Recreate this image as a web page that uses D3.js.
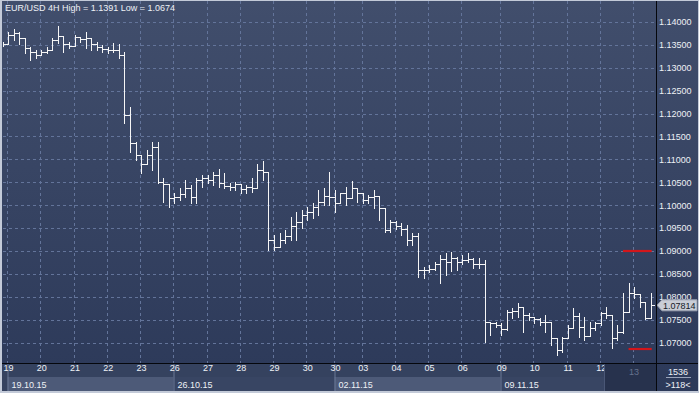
<!DOCTYPE html>
<html>
<head>
<meta charset="utf-8">
<script src="https://cdn.jsdelivr.net/npm/d3@7/dist/d3.min.js"></script>
<style>
  body { margin: 0; background: #c3cad8; }
  svg { display: block; font-family: "Liberation Sans", Arial, sans-serif; }
</style>
</head>
<body>
<div id="chart"></div>
<script>
// day labels and the bar index each day starts at
const dayLabels = ['19', '20', '21', '22', '23', '26', '27', '28', '29', '30', '30', '03', '04', '05', '06', '09', '10', '11', '12', '13'];
const dayStart = [1, 7, 13, 19, 25, 31, 37, 43, 49, 55, 60, 65, 71, 77, 83, 90, 96, 102, 108, 114];
const weekLabels = ['19.10.15', '26.10.15', '02.11.15', '09.11.15'];
const weekStart = [1, 31, 60, 90];
const priceTicks = [1.07, 1.075, 1.08, 1.085, 1.09, 1.095, 1.10, 1.105, 1.11, 1.115, 1.12, 1.125, 1.13, 1.135, 1.14];

// 4H bars EUR/USD
const open = [
  1.1352, 1.1352, 1.1372, 1.1376, 1.1365, 1.1343, 1.1334, 1.1328, 1.1334, 1.1339,
  1.1361, 1.1369, 1.1352, 1.1348, 1.1367, 1.1363, 1.1365, 1.1352, 1.1345, 1.1341,
  1.1339, 1.1339, 1.1328, 1.1197, 1.1136, 1.1110, 1.1090, 1.1110, 1.1127, 1.1051,
  1.1046, 1.1016, 1.1018, 1.1025, 1.1038, 1.1018, 1.1055, 1.1059, 1.1055, 1.1066,
  1.1049, 1.1042, 1.1040, 1.1046, 1.1035, 1.1040, 1.1038, 1.1077, 1.1073, 1.0924,
  1.0909, 1.0924, 1.0933, 1.0955, 1.0963, 1.0979, 1.0985, 1.0996, 1.1007, 1.1020,
  1.1018, 1.1005, 1.1027, 1.1016, 1.1038, 1.1027, 1.1011, 1.1018, 1.1020, 1.0994,
  1.0946, 1.0963, 1.0955, 1.0948, 1.0924, 1.0933, 1.0859, 1.0859, 1.0861, 1.0872,
  1.0883, 1.0876, 1.0885, 1.0876, 1.0880, 1.0883, 1.0872, 1.0872, 1.0745, 1.0743,
  1.0738, 1.0730, 1.0767, 1.0769, 1.0778, 1.0760, 1.0756, 1.0752, 1.0745, 1.0745,
  1.0710, 1.0684, 1.0710, 1.0732, 1.0758, 1.0734, 1.0714, 1.0732, 1.0743, 1.0765,
  1.0760, 1.0710, 1.0723, 1.0767, 1.0808, 1.0806, 1.0789, 1.0754
];
const high = [
  1.1356, 1.1378, 1.1385, 1.1378, 1.1365, 1.1345, 1.1339, 1.1339, 1.1345, 1.1365,
  1.1391, 1.1369, 1.1356, 1.1372, 1.1367, 1.1378, 1.1365, 1.1356, 1.1350, 1.1345,
  1.1354, 1.1352, 1.1334, 1.1214, 1.1138, 1.1110, 1.1121, 1.1138, 1.1138, 1.1059,
  1.1046, 1.1027, 1.1038, 1.1055, 1.1044, 1.1059, 1.1066, 1.1066, 1.1073, 1.1079,
  1.1070, 1.1049, 1.1051, 1.1046, 1.1044, 1.1059, 1.1090, 1.1097, 1.1073, 1.0935,
  1.0939, 1.0946, 1.0974, 1.0985, 1.0990, 1.0996, 1.1005, 1.1033, 1.1038, 1.1073,
  1.1033, 1.1027, 1.1040, 1.1053, 1.1038, 1.1027, 1.1022, 1.1033, 1.1020, 1.0994,
  1.0968, 1.0965, 1.0961, 1.0957, 1.0939, 1.0939, 1.0865, 1.0869, 1.0876, 1.0891,
  1.0896, 1.0898, 1.0887, 1.0891, 1.0896, 1.0885, 1.0885, 1.0880, 1.0745, 1.0745,
  1.0743, 1.0771, 1.0776, 1.0786, 1.0778, 1.0765, 1.0756, 1.0754, 1.0760, 1.0745,
  1.0710, 1.0712, 1.0738, 1.0776, 1.0765, 1.0756, 1.0745, 1.0745, 1.0767, 1.0778,
  1.0760, 1.0738, 1.0808, 1.0830, 1.0821, 1.0806, 1.0789, 1.0808
];
const low = [
  1.1348, 1.1352, 1.1361, 1.1352, 1.1332, 1.1317, 1.1321, 1.1328, 1.1332, 1.1339,
  1.1354, 1.1334, 1.1343, 1.1348, 1.1356, 1.1343, 1.1339, 1.1339, 1.1334, 1.1332,
  1.1334, 1.1321, 1.1180, 1.1116, 1.1099, 1.1070, 1.1090, 1.1077, 1.1049, 1.1007,
  1.0996, 1.1005, 1.1011, 1.1018, 1.1005, 1.1005, 1.1040, 1.1049, 1.1044, 1.1040,
  1.1038, 1.1033, 1.1033, 1.1027, 1.1027, 1.1029, 1.1038, 1.1055, 1.0902, 1.0902,
  1.0909, 1.0917, 1.0924, 1.0924, 1.0950, 1.0968, 1.0972, 1.0979, 1.1000, 1.1000,
  1.0985, 1.1005, 1.1000, 1.1016, 1.1007, 1.1005, 1.1005, 1.0994, 1.0968, 1.0942,
  1.0942, 1.0948, 1.0935, 1.0913, 1.0913, 1.0843, 1.0841, 1.0854, 1.0859, 1.0830,
  1.0848, 1.0856, 1.0859, 1.0872, 1.0876, 1.0863, 1.0863, 1.0701, 1.0717, 1.0734,
  1.0717, 1.0728, 1.0754, 1.0756, 1.0723, 1.0749, 1.0743, 1.0738, 1.0723, 1.0695,
  1.0674, 1.0680, 1.0710, 1.0732, 1.0712, 1.0706, 1.0714, 1.0728, 1.0738, 1.0754,
  1.0688, 1.0706, 1.0721, 1.0767, 1.0797, 1.0778, 1.0752, 1.0754
];
const close = [
  1.1352, 1.1372, 1.1376, 1.1365, 1.1343, 1.1334, 1.1328, 1.1334, 1.1339, 1.1361,
  1.1369, 1.1352, 1.1348, 1.1367, 1.1363, 1.1365, 1.1352, 1.1345, 1.1341, 1.1339,
  1.1339, 1.1328, 1.1197, 1.1136, 1.1110, 1.1090, 1.1110, 1.1127, 1.1051, 1.1046,
  1.1016, 1.1018, 1.1025, 1.1038, 1.1018, 1.1055, 1.1059, 1.1055, 1.1066, 1.1049,
  1.1042, 1.1040, 1.1046, 1.1035, 1.1040, 1.1038, 1.1077, 1.1073, 1.0924, 1.0909,
  1.0924, 1.0933, 1.0955, 1.0963, 1.0979, 1.0985, 1.0996, 1.1007, 1.1020, 1.1018,
  1.1005, 1.1027, 1.1016, 1.1038, 1.1027, 1.1011, 1.1018, 1.1020, 1.0994, 1.0946,
  1.0963, 1.0955, 1.0948, 1.0924, 1.0933, 1.0859, 1.0859, 1.0861, 1.0872, 1.0883,
  1.0876, 1.0885, 1.0876, 1.0880, 1.0883, 1.0872, 1.0872, 1.0745, 1.0743, 1.0738,
  1.0730, 1.0767, 1.0769, 1.0778, 1.0760, 1.0756, 1.0752, 1.0745, 1.0745, 1.0710,
  1.0684, 1.0710, 1.0732, 1.0758, 1.0734, 1.0714, 1.0732, 1.0743, 1.0765, 1.0760,
  1.0710, 1.0723, 1.0767, 1.0808, 1.0806, 1.0789, 1.0754, 1.07814
];
const lastPrice = 1.07814;
// order levels drawn in red near the right edge
const orderLevels = [1.09, 1.0686];
const orderFrom = [112, 113];
const orderTo = [117, 117];
const barCount = '1536';
const visibleBars = '>118<';
const title = 'EUR/USD 4H High = 1.1391 Low = 1.0674';

const W = 699, H = 393;
const plot = { left: 3, right: 656, top: 1, bottom: 363 };

const svg = d3.select('#chart').append('svg').attr('width', W).attr('height', H);
const defs = svg.append('defs');

const bg = defs.append('linearGradient').attr('id', 'bg').attr('x1', 0).attr('y1', 0).attr('x2', 0).attr('y2', 1);
bg.append('stop').attr('offset', '0%').attr('stop-color', '#414e6c');
bg.append('stop').attr('offset', '100%').attr('stop-color', '#2c3959');

defs.append('clipPath').attr('id', 'plotClip').append('rect')
  .attr('x', plot.left).attr('y', plot.top)
  .attr('width', plot.right - plot.left).attr('height', plot.bottom - plot.top);

// frame + background
svg.append('rect').attr('width', W).attr('height', H).attr('fill', '#c3cad8');
svg.append('rect').attr('x', 2).attr('y', 1).attr('width', W - 3).attr('height', H - 3).attr('fill', 'url(#bg)');

const x = d3.scaleLinear().domain([0, open.length - 1]).range([2.56, 650.7]);
const y = d3.scaleLinear().domain([1.07, 1.14]).range([342.6, 22]);
const px = n => Math.round(x(n)) + 0.5;
const py = v => Math.round(y(v)) + 0.5;
const lastDay = dayLabels.length - 1;

// time axis rows
const axisG = svg.append('g');
axisG.append('rect').attr('x', 2).attr('y', plot.bottom).attr('width', plot.right - 2).attr('height', H - 2 - plot.bottom)
  .attr('fill', '#35425f');
weekStart.forEach((s, i) => {
  const x0 = Math.round(x(s)) - 0.5;
  const x1 = i < weekStart.length - 1 ? Math.round(x(weekStart[i + 1])) - 0.5 : plot.right;
  axisG.append('rect').attr('x', x0).attr('y', 377).attr('width', x1 - x0).attr('height', 14)
    .attr('fill', i % 2 === 0 ? '#4d5a78' : '#384563');
  axisG.append('line').attr('x1', x0 + 0.5).attr('x2', x0 + 0.5).attr('y1', 364).attr('y2', 391)
    .attr('stroke', '#6b7896');
  axisG.append('text').attr('x', x0 + 4).attr('y', 388).attr('fill', '#eef1f6')
    .attr('font-size', 9).text(weekLabels[i]);
});

// day labels (the last day is drawn greyed inside the highlight)
const xAxis = d3.axisBottom(x).tickValues(dayStart.slice(0, lastDay)).tickSize(0).tickPadding(0)
  .tickFormat((d, i) => dayLabels[i]);
const xAxisG = axisG.append('g').attr('transform', `translate(0,${plot.bottom + 2})`).call(xAxis);
xAxisG.select('.domain').remove();
xAxisG.selectAll('text').attr('fill', '#eef1f6').attr('font-size', 9).attr('dy', '0.71em')
  .attr('font-family', '"Liberation Sans", Arial, sans-serif');

// last day highlight
axisG.append('rect').attr('x', 604).attr('y', plot.bottom + 1).attr('width', plot.right - 604).attr('height', H - 3 - plot.bottom)
  .attr('fill', '#27324d');
axisG.append('line').attr('x1', 604.5).attr('x2', 604.5).attr('y1', plot.bottom + 1).attr('y2', H - 2).attr('stroke', '#4a5776');
axisG.append('text').attr('x', x(dayStart[lastDay])).attr('y', plot.bottom + 11.5)
  .attr('text-anchor', 'middle').attr('fill', '#66728e').attr('font-size', 9)
  .text(dayLabels[lastDay]);

// grid
const grid = svg.append('g').attr('clip-path', 'url(#plotClip)');
grid.selectAll('.hg').data(priceTicks).join('line').attr('class', 'hg')
  .attr('x1', plot.left).attr('x2', plot.right).attr('y1', d => py(d)).attr('y2', d => py(d))
  .attr('stroke', '#63749a').attr('stroke-dasharray', '3,3');
grid.selectAll('.vg').data(dayStart).join('line').attr('class', 'vg')
  .attr('x1', d => px(d) - 1).attr('x2', d => px(d) - 1).attr('y1', plot.top).attr('y2', plot.bottom)
  .attr('stroke', '#63749a').attr('stroke-dasharray', '3,3');

// OHLC bars
const bars = svg.append('g').attr('clip-path', 'url(#plotClip)')
  .attr('stroke', '#f6f6f6').attr('stroke-width', 1).attr('shape-rendering', 'crispEdges');
const idx = d3.range(open.length);
bars.selectAll('.hl').data(idx).join('line').attr('class', 'hl')
  .attr('x1', px).attr('x2', px)
  .attr('y1', n => Math.round(y(high[n]))).attr('y2', n => Math.round(y(low[n])) + 1);
bars.selectAll('.op').data(idx).join('line').attr('class', 'op')
  .attr('x1', n => px(n) - 3).attr('x2', px)
  .attr('y1', n => py(open[n])).attr('y2', n => py(open[n]));
bars.selectAll('.cl').data(idx).join('line').attr('class', 'cl')
  .attr('x1', px).attr('x2', n => px(n) + 3)
  .attr('y1', n => py(close[n])).attr('y2', n => py(close[n]));

// order levels
svg.append('g').selectAll('line').data(orderLevels).join('line')
  .attr('x1', (d, i) => x(orderFrom[i])).attr('x2', (d, i) => x(orderTo[i]) + 1)
  .attr('y1', d => y(d)).attr('y2', d => y(d))
  .attr('stroke', '#d2161b').attr('stroke-width', 2.2);

// price axis
const yAxis = d3.axisRight(y).tickValues(priceTicks).tickSize(0).tickPadding(0)
  .tickFormat(d3.format('.5f'));
const yAxisG = svg.append('g').attr('transform', `translate(${plot.right + 3},0)`).call(yAxis);
yAxisG.select('.domain').remove();
yAxisG.selectAll('text').attr('fill', '#eef1f6').attr('font-size', 9)
  .attr('font-family', '"Liberation Sans", Arial, sans-serif');

// current price tag
const ly = y(lastPrice);
svg.append('path')
  .attr('d', `M${plot.right + 1},${ly} L${plot.right + 6},${ly - 5.5} H697 V${ly + 5.5} H${plot.right + 6} Z`)
  .attr('fill', '#c9cdd6').attr('stroke', '#9aa1b0');
svg.append('text').attr('x', plot.right + 7).attr('y', ly + 3.5).attr('fill', '#141a28')
  .attr('font-size', 9).text(d3.format('.5f')(lastPrice));

// separators
svg.append('line').attr('x1', plot.right + 0.5).attr('x2', plot.right + 0.5).attr('y1', 1).attr('y2', H - 2)
  .attr('stroke', '#05070c');
svg.append('line').attr('x1', 2).attr('x2', W - 1).attr('y1', plot.bottom + 0.5).attr('y2', plot.bottom + 0.5)
  .attr('stroke', '#05070c');

// corner box
svg.append('text').attr('x', 678).attr('y', 375).attr('text-anchor', 'middle').attr('fill', '#eef1f6')
  .attr('font-size', 9).text(barCount);
svg.append('line').attr('x1', 666).attr('x2', 691).attr('y1', 377.5).attr('y2', 377.5).attr('stroke', '#9aa4ba');
svg.append('text').attr('x', 678).attr('y', 388).attr('text-anchor', 'middle').attr('fill', '#eef1f6')
  .attr('font-size', 9).text(visibleBars);

// title
svg.append('text').attr('x', 5).attr('y', 11).attr('fill', '#eef1f6').attr('font-size', 9).text(title);
</script>
</body>
</html>
